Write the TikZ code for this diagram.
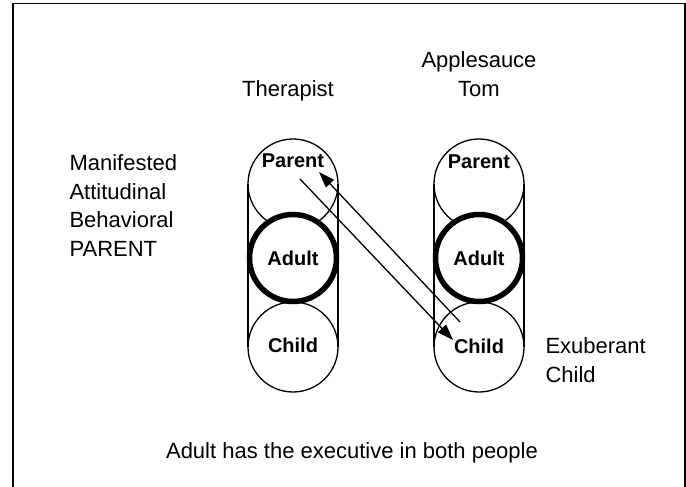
\documentclass[tikz,border=0pt]{standalone}
\usepackage{fontspec}
\setmainfont{Liberation Sans}
\usetikzlibrary{arrows.meta,calc}
\begin{document}
\begin{tikzpicture}[x=1pt,y=-1pt,
  state/.style={circle,draw,fill=white,line width=1.3pt,minimum size=90pt,inner sep=0pt,outer sep=0pt},
  exec/.style={state,line width=5.5pt,minimum size=87pt},
  word/.style={font=\fontsize{20}{24}\selectfont\bfseries,anchor=base},
  note/.style={font=\fontsize{22}{28.5}\selectfont,anchor=base west,align=left},
  talk/.style={line width=1.3pt,-{Triangle[length=16pt,width=11pt]}}]
\useasboundingbox (0,0) rectangle (686,487);
% frame
\draw[line width=2.5pt] (13,487) -- (13,3.5);
\draw[line width=1.2pt] (12,3.5) -- (685,3.5);
\draw[line width=2pt] (684.5,3.5) -- (684.5,487);
% circles of the therapist
\node[state] (thP) at (293,184) {};
\node[state] (thC) at (293,347) {};
\node[exec] (thA) at (293,258) {};
% circles of tom
\node[state] (tomP) at (479,184) {};
\node[state] (tomC) at (479,347) {};
\node[exec] (tomA) at (479,258) {};
% sides of the two people
\draw[line width=1.3pt] (thP.west) -- (thC.west) (thP.east) -- (thC.east);
\draw[line width=1.3pt] (tomP.west) -- (tomC.west) (tomP.east) -- (tomC.east);
% ego states
\node[word] (thPl) at ($(thP)+(0,-17)$) {Parent};
\node[word] (thAl) at ($(thA)+(0,7)$) {Adult};
\node[word] (thCl) at ($(thC)+(0,5)$) {Child};
\node[word] (tomPl) at ($(tomP)+(0,-16)$) {Parent};
\node[word] (tomAl) at ($(tomA)+(0,7)$) {Adult};
\node[word] (tomCl) at ($(tomC)+(0,6)$) {Child};
% names and notes
\node[note,anchor=base] (thN) at (288,96) {Therapist};
\node[note,anchor=base,align=center] (tomN) at (479,96) {Applesauce\\Tom};
\node[note] (kind) at (66,256) {Manifested\\Attitudinal\\Behavioral\\PARENT};
\node[note] (exub) at (542,382) {Exuberant\\Child};
\node[note,anchor=base] (sum) at (352,458) {Adult has the executive in both people};
% transactions
\coordinate (s1) at ($(thP)+(7,-5)$);
\coordinate (e1) at ($(tomC)+(-26,-7)$);
\coordinate (s2) at ($(tomC)+(-19,-25)$);
\coordinate (e2) at ($(thP)+(26,-12)$);
\draw[talk] (s1) -- (e1);
\draw[talk] (s2) -- (e2);
\end{tikzpicture}
\end{document}
